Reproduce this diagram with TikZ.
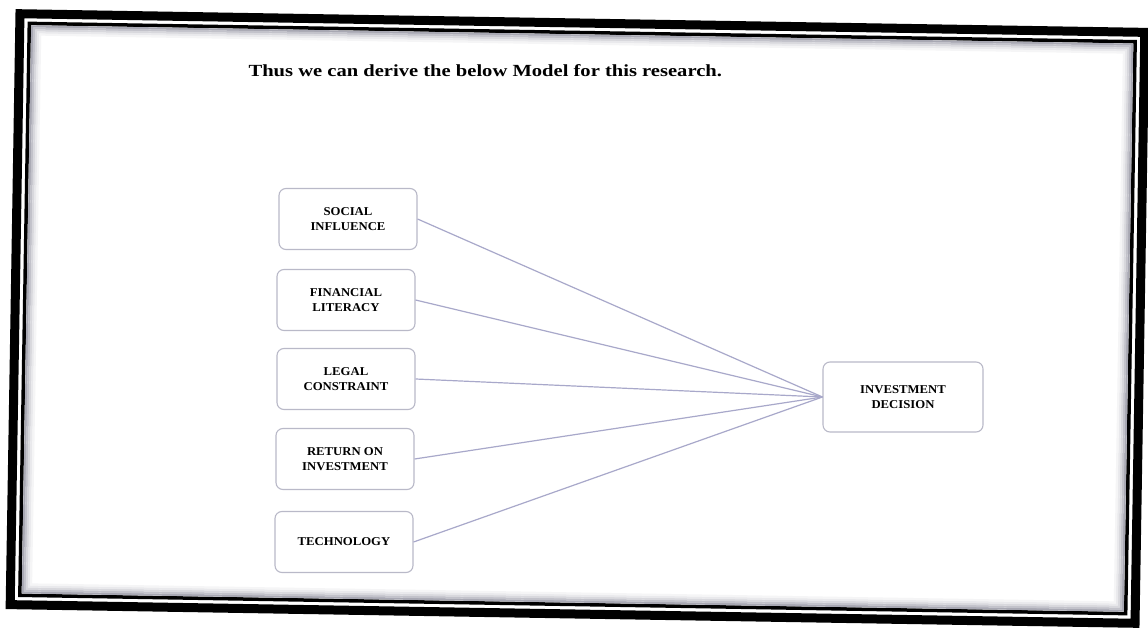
\documentclass[tikz,border=0pt]{standalone}
\usepackage{fontspec}
\setmainfont{Liberation Serif}
\usepackage{graphicx}
\definecolor{boxc}{RGB}{185,185,200}
\definecolor{linkc}{RGB}{168,168,202}
\definecolor{shadec}{RGB}{110,110,128}
\newcommand\boxtxt[1]{\scalebox{1.06}[1]{#1}}
\tikzset{
  factor/.style={draw=boxc, line width=1.1pt, rounded corners=7pt, minimum width=138pt, minimum height=61pt, align=center, font=\fontsize{12}{15}\selectfont\bfseries, fill=white, inner sep=2pt},
  outcome/.style={factor, minimum width=160pt, minimum height=70pt},
  link/.style={draw=linkc, line width=1.2pt},
  frameouter/.style={line width=9pt, black},
  frameinner/.style={line width=3.5pt, black}
}
\begin{document}
\begin{tikzpicture}[x=1pt,y=-1pt]
\useasboundingbox (0,0) rectangle (1148,631);
\fill[white] (0,0) rectangle (1148,631);
\begin{scope}[rotate around={-0.95:(577.5,318.5)}]
  \draw[frameouter] (15,23) rectangle (1140,614);
  \draw[frameinner] (24.5,32.5) rectangle (1130.5,604.5);
  \foreach \o/\c in {12.5/60,14.5/42,16.5/27,18.5/15,20.5/7}
    \draw[line width=2.2pt, shadec!\c] (15+\o,23+\o) rectangle (1140-\o,614-\o);
\end{scope}
\node[anchor=base west, font=\fontsize{17}{20}\selectfont\bfseries] (title) at (245,77) {\scalebox{1.21}[1]{Thus we can derive the below Model for this research.}};
\node[factor] (s1) at (348,219) {\boxtxt{SOCIAL}\\\boxtxt{INFLUENCE}};
\node[factor] (s2) at (346,300) {\boxtxt{FINANCIAL}\\\boxtxt{LITERACY}};
\node[factor] (s3) at (346,379) {\boxtxt{LEGAL}\\\boxtxt{CONSTRAINT}};
\node[factor] (s4) at (345,459) {\boxtxt{RETURN ON}\\\boxtxt{INVESTMENT}};
\node[factor] (s5) at (344,542) {\boxtxt{TECHNOLOGY}};
\node[outcome] (t) at (903,397) {\boxtxt{INVESTMENT}\\\boxtxt{DECISION}};
\foreach \s in {s1,s2,s3,s4,s5}
  \draw[link] (\s.east) -- (t.west);
\end{tikzpicture}
\end{document}
